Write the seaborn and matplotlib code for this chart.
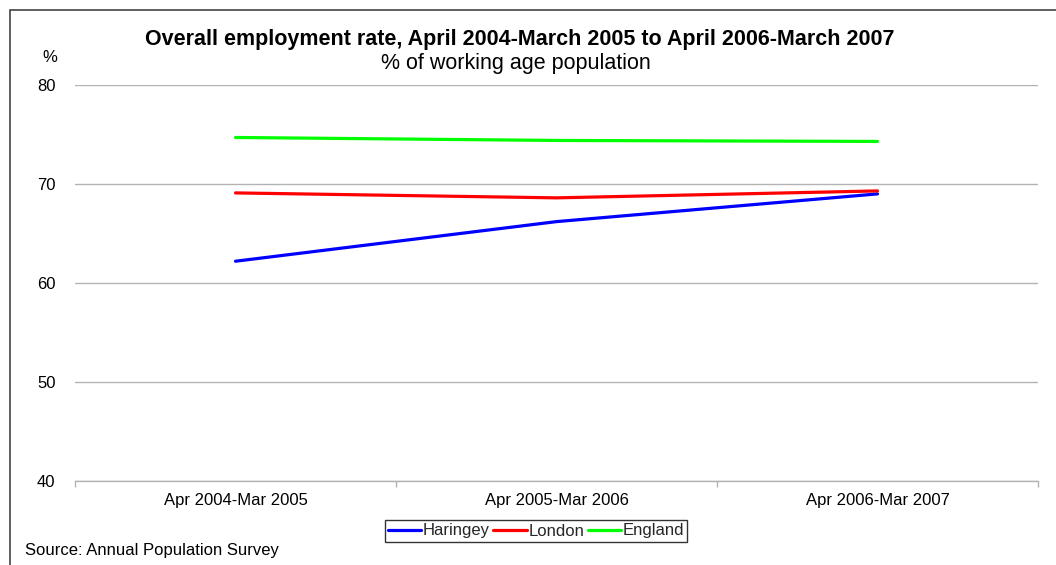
import matplotlib
matplotlib.use("Agg")
import matplotlib.pyplot as plt
from matplotlib.patches import Rectangle
import seaborn as sns
import pandas as pd
import numpy as np

periods = ["Apr 2004-Mar 2005", "Apr 2005-Mar 2006", "Apr 2006-Mar 2007"]
haringey = [62.2, 66.2, 69.0]
london = [69.1, 68.6, 69.3]
england = [74.7, 74.4, 74.3]
areas = ["Haringey", "London", "England"]
colors = ["#0000FF", "#FF0000", "#00FF00"]

df = pd.DataFrame({
    "period": np.tile(np.arange(len(periods)), 3),
    "rate": haringey + london + england,
    "area": np.repeat(areas, len(periods)),
})

sns.set_theme(style="white")
plt.rcParams["font.family"] = ["Liberation Sans", "DejaVu Sans"]

fig = plt.figure(figsize=(10.56, 5.65), dpi=100)
ax = fig.add_axes([75 / 1056, 1 - 481 / 565, (1038 - 75) / 1056, (481 - 85) / 565])

sns.lineplot(data=df, x="period", y="rate", hue="area", palette=colors,
             hue_order=areas, linewidth=2.3, ax=ax, legend=False)

ax.set_xlim(-0.5, 2.5)
ax.set_ylim(40, 80)
ax.set_yticks([40, 50, 60, 70, 80])
ax.yaxis.grid(True, color="#b3b3b3", linewidth=1)
ax.set_axisbelow(True)
ax.set_xticks(range(len(periods)))
ax.set_xticklabels(periods)
ax.set_xticks([-0.5, 0.5, 1.5, 2.5], minor=True)
ax.tick_params(axis="x", which="major", length=0, pad=9, labelsize=12, colors="black")
ax.tick_params(axis="x", which="minor", length=4, color="#b3b3b3", width=1, bottom=True)
ax.tick_params(axis="y", length=0, pad=14, labelsize=12, colors="black")
ax.set_xlabel("")
ax.set_ylabel("")
for side in ["top", "right", "left"]:
    ax.spines[side].set_visible(False)
ax.spines["bottom"].set_color("#b3b3b3")
ax.spines["bottom"].set_linewidth(1)

# chart frame
fig.patches.append(Rectangle((10 / 1056, -0.1), 1.2, 1 - 10 / 565 + 0.1,
                             transform=fig.transFigure, fill=False,
                             edgecolor="#444444", linewidth=1.2))

fig.text(520 / 1056, 1 - 39 / 565, "Overall employment rate, April 2004-March 2005 to April 2006-March 2007",
         ha="center", va="center", fontsize=15.5, fontweight="bold", color="black")
fig.text(516 / 1056, 1 - 64 / 565, "% of working age population",
         ha="center", va="center", fontsize=15.5, color="black")
fig.text(50 / 1056, 1 - 58 / 565, "%", ha="center", va="center", fontsize=12, color="black")
fig.text(25 / 1056, 1 - 551 / 565, "Source: Annual Population Survey",
         ha="left", va="center", fontsize=12, color="black")

handles = [plt.Line2D([], [], color=c, linewidth=2.3) for c in colors]
leg = fig.legend(handles, areas, loc="center", bbox_to_anchor=(536 / 1056, 1 - 531 / 565),
                 ncol=3, frameon=True, fontsize=12, handlelength=2.0, handletextpad=0.1,
                 columnspacing=0.2, borderpad=0.2, fancybox=False)
leg.get_frame().set_edgecolor("black")
leg.get_frame().set_linewidth(1)

fig.savefig("out.png", dpi=100)
